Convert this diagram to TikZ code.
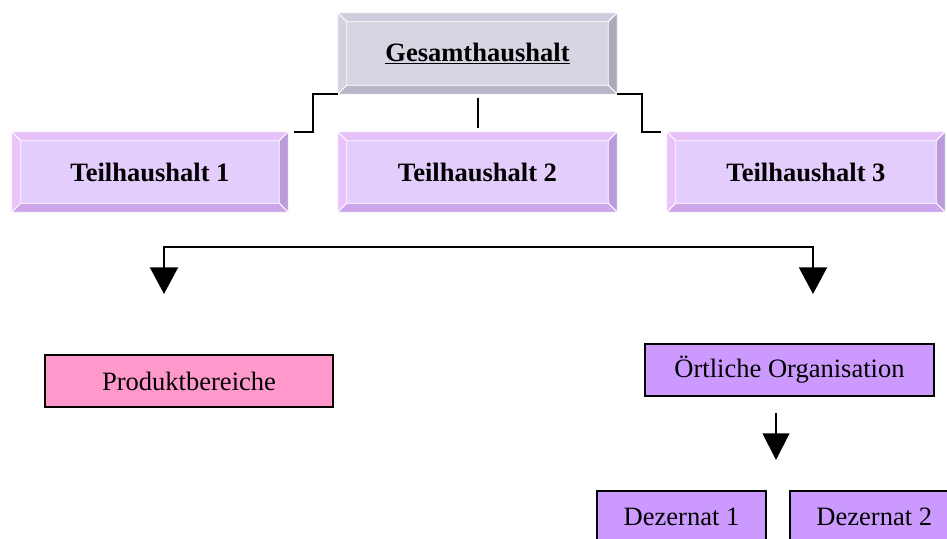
\documentclass[tikz,border=0pt]{standalone}
\usepackage{fontspec}
\setmainfont{Liberation Serif}
\usetikzlibrary{arrows.meta}

\definecolor{gesface}{RGB}{214,214,226}
\definecolor{gestop}{RGB}{205,205,221}
\definecolor{gesleft}{RGB}{210,210,224}
\definecolor{gesright}{RGB}{170,170,188}
\definecolor{gesbottom}{RGB}{182,182,198}
\definecolor{thface}{RGB}{227,205,252}
\definecolor{thtop}{RGB}{231,193,250}
\definecolor{thleft}{RGB}{234,195,250}
\definecolor{thright}{RGB}{186,156,219}
\definecolor{thbottom}{RGB}{205,166,233}
\definecolor{prodpink}{RGB}{255,153,204}
\definecolor{orglila}{RGB}{204,153,255}

% bevel edges of a raised box: node, top, left, right, bottom
\newcommand{\bevelfill}[5]{%
  \filldraw[fill=#2,draw=white,line width=0.6] (#1.north west) -- (#1.north east) -- ([shift={(-9,9)}]#1.north east) -- ([shift={(9,9)}]#1.north west) -- cycle;
  \filldraw[fill=#3,draw=white,line width=0.6] (#1.north west) -- ([shift={(9,9)}]#1.north west) -- ([shift={(9,-9)}]#1.south west) -- (#1.south west) -- cycle;
  \filldraw[fill=#4,draw=white,line width=0.6] (#1.north east) -- (#1.south east) -- ([shift={(-9,-9)}]#1.south east) -- ([shift={(-9,9)}]#1.north east) -- cycle;
  \filldraw[fill=#5,draw=white,line width=0.6] (#1.south west) -- ([shift={(9,-9)}]#1.south west) -- ([shift={(-9,-9)}]#1.south east) -- (#1.south east) -- cycle;
}

\tikzset{
  raised/.style={fill=#1, inner sep=0, font=\bfseries\fontsize{19.9}{24}\selectfont},
  flatbox/.style={fill=#1, draw=black, line width=1.2, inner sep=0, minimum height=39pt, font=\fontsize{19.9}{24}\selectfont},
  link/.style={line width=1.5},
  droparrow/.style={line width=1.5, -{Triangle[width=21pt,length=20pt]}}
}

\begin{document}
\begin{tikzpicture}[x=0.75pt,y=0.75pt,yscale=-1,xscale=1]
    \clip (0,0) rectangle (947,539);

    %Shape: Raised boxes
    \node[raised=gesface, minimum width=209.25pt, minimum height=60.75pt] (ges) at (477.5,53.5) {};
    \bevelfill{ges}{gestop}{gesleft}{gesright}{gesbottom}
    \node[font=\bfseries\fontsize{19.9}{24}\selectfont] (gestext) at (477.5,53.5) {\underline{Gesamthaushalt}};

    \node[raised=thface, minimum width=207pt, minimum height=60pt] (th1) at (150,172) {};
    \bevelfill{th1}{thtop}{thleft}{thright}{thbottom}
    \node[raised=thface, minimum width=209.25pt, minimum height=60pt] (th2) at (477.5,172) {};
    \bevelfill{th2}{thtop}{thleft}{thright}{thbottom}
    \node[raised=thface, minimum width=208.5pt, minimum height=60pt] (th3) at (806,172) {};
    \bevelfill{th3}{thtop}{thleft}{thright}{thbottom}
    \node[font=\bfseries\fontsize{19.9}{24}\selectfont] at (th1) {Teilhaushalt 1};
    \node[font=\bfseries\fontsize{19.9}{24}\selectfont] at (th2) {Teilhaushalt 2};
    \node[font=\bfseries\fontsize{19.9}{24}\selectfont] at (th3) {Teilhaushalt 3};

    %Straight Lines
    \draw[link] (ges.south west) -- ++(-25,0) |- ([xshift=4]th1.north east);
    \draw[link, shorten <=2.5, shorten >=2.5] (ges.south) -- (th2.north);
    \draw[link] (ges.south east) -- ++(25,0) |- ([xshift=-4]th3.north west);

    %Shape: Flat boxes
    \node[flatbox=prodpink, minimum width=216pt] (prod) at (189,381) {Produktbereiche};
    \node[flatbox=orglila, minimum width=216.75pt] (ort) at (789.5,370) {Örtliche Organisation};
    \node[flatbox=orglila, minimum width=126.75pt] (dez1) at (681.5,517) {Dezernat 1};
    \node[flatbox=orglila, anchor=west] (dez2) at (789,517) {\hspace*{20pt}Dezernat 2\hspace*{40pt}};

    %Arrows
    \coordinate (splitl) at (164,247);
    \coordinate (splitr) at (813,247);
    \coordinate (tipl) at (164,294);
    \coordinate (tipr) at (813,294);
    \draw[droparrow] (splitr) -- (splitl) -- (tipl);
    \draw[droparrow] (splitl) -- (splitr) -- (tipr);
    \coordinate (ortdrop) at (776,413);
    \coordinate (deztip) at (776,460);
    \draw[droparrow, -{Triangle[width=20pt,length=20pt]}] (ortdrop) -- (deztip);

\end{tikzpicture}
\end{document}
